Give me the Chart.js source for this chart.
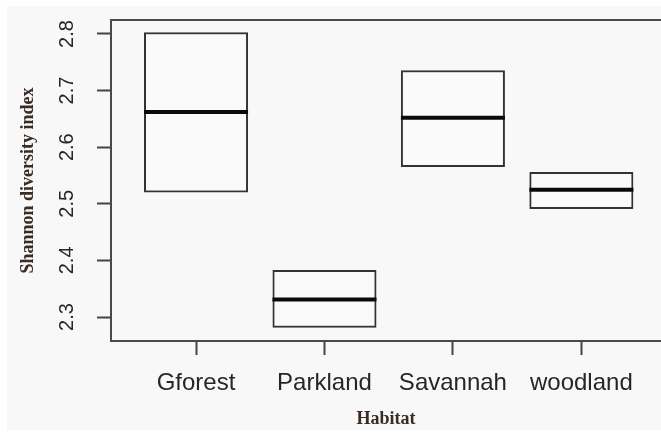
<!DOCTYPE html>
<html>
<head>
<meta charset="utf-8">
<script src="https://cdn.jsdelivr.net/npm/chart.js@4/dist/chart.umd.min.js"></script>
<style>
  html, body { margin: 0; padding: 0; background: #ffffff; }
  canvas { display: block; }
</style>
</head>
<body>
<canvas id="chart" width="661" height="435"></canvas>
<script>
// Shannon diversity by habitat: box = lower/upper hinge, thick line = median
const HABITATS = ['Gforest', 'Parkland', 'Savannah', 'woodland'];
const POSITIONS = [1, 2, 3, 4];
const LOWER = [2.520, 2.281, 2.565, 2.491];
const UPPER = [2.803, 2.383, 2.736, 2.556];
const MEDIAN = [2.662, 2.331, 2.652, 2.525];
const Y_TICKS = [2.3, 2.4, 2.5, 2.6, 2.7, 2.8];

const INK = '#262626';
const TITLE_INK = '#3a2c24';
const PANEL = '#f8f8f8';

// light grey panel behind everything, with a thin white margin
const panelPlugin = {
  id: 'panel',
  beforeDraw(chart) {
    const ctx = chart.ctx;
    ctx.save();
    ctx.fillStyle = PANEL;
    ctx.fillRect(7, 6, chart.width - 7, chart.height - 11);
    ctx.restore();
  }
};

// top edge of the plot frame
const framePlugin = {
  id: 'frame',
  afterDraw(chart) {
    const { ctx, chartArea } = chart;
    ctx.save();
    ctx.strokeStyle = '#4a4a4a';
    ctx.lineWidth = 2;
    ctx.beginPath();
    ctx.moveTo(chartArea.left, chartArea.top);
    ctx.lineTo(chartArea.right + 2, chartArea.top);
    ctx.stroke();
    ctx.restore();
  }
};

// median bar across each box
const medianPlugin = {
  id: 'medians',
  afterDatasetsDraw(chart) {
    const meta = chart.getDatasetMeta(0);
    const y = chart.scales.y;
    const ctx = chart.ctx;
    ctx.save();
    ctx.strokeStyle = '#0a0a0a';
    ctx.lineWidth = 4;
    meta.data.forEach((bar, i) => {
      const py = y.getPixelForValue(MEDIAN[i]);
      const half = bar.width / 2;
      ctx.beginPath();
      ctx.moveTo(bar.x - half, py);
      ctx.lineTo(bar.x + half, py);
      ctx.stroke();
    });
    ctx.restore();
  }
};

new Chart(document.getElementById('chart'), {
  type: 'bar',
  data: {
    datasets: [{
      data: POSITIONS.map((p, i) => ({ x: p, y: [LOWER[i], UPPER[i]] })),
      backgroundColor: 'rgba(255,255,255,0.25)',
      borderColor: '#333333',
      borderWidth: 2,
      borderSkipped: false,
      barPercentage: 0.81,
      categoryPercentage: 1.0
    }]
  },
  options: {
    responsive: false,
    animation: false,
    devicePixelRatio: 1,
    layout: { padding: { left: 0, top: 20, right: 0, bottom: 0 } },
    plugins: { legend: { display: false }, tooltip: { enabled: false } },
    scales: {
      x: {
        type: 'linear',
        offset: false,
        min: 0.338,
        max: 4.62,
        afterBuildTicks(scale) { scale.ticks = POSITIONS.map(v => ({ value: v })); },
        afterFit(scale) { scale.height = 94; scale.paddingLeft = 0; scale.paddingRight = 0; },
        grid: { display: true, offset: false, drawOnChartArea: false, drawTicks: true, tickLength: 14, tickColor: '#444444', tickWidth: 2 },
        border: { display: true, color: '#4a4a4a', width: 2 },
        ticks: {
          autoSkip: false,
          maxRotation: 0,
          minRotation: 0,
          padding: 14,
          color: INK,
          font: { family: '"Liberation Sans", Arial, sans-serif', size: 24 },
          callback: (v) => HABITATS[POSITIONS.indexOf(v)]
        },
        title: {
          display: true,
          text: 'Habitat',
          color: TITLE_INK,
          font: { family: '"Liberation Serif", "Times New Roman", serif', size: 18, weight: 'bold' },
          padding: { top: 0, bottom: 5 }
        }
      },
      y: {
        min: 2.2576,
        max: 2.8247,
        afterBuildTicks(scale) { scale.ticks = Y_TICKS.map(v => ({ value: v })); },
        afterFit(scale) { scale.width = 111; scale.paddingTop = 0; scale.paddingBottom = 0; },
        grid: { display: true, drawOnChartArea: false, drawTicks: true, tickLength: 14, tickColor: '#444444', tickWidth: 2 },
        border: { display: true, color: '#4a4a4a', width: 2 },
        ticks: {
          autoSkip: false,
          minRotation: 90,
          maxRotation: 90,
          crossAlign: 'center',
          padding: 16,
          color: INK,
          font: { family: '"Liberation Sans", Arial, sans-serif', size: 20 },
          callback: (v) => v.toFixed(1)
        },
        title: {
          display: true,
          text: 'Shannon diversity index',
          color: TITLE_INK,
          font: { family: '"Liberation Serif", "Times New Roman", serif', size: 18, weight: 'bold' },
          padding: { top: 18, bottom: 0 }
        }
      }
    }
  },
  plugins: [panelPlugin, framePlugin, medianPlugin]
});
</script>
</body>
</html>
